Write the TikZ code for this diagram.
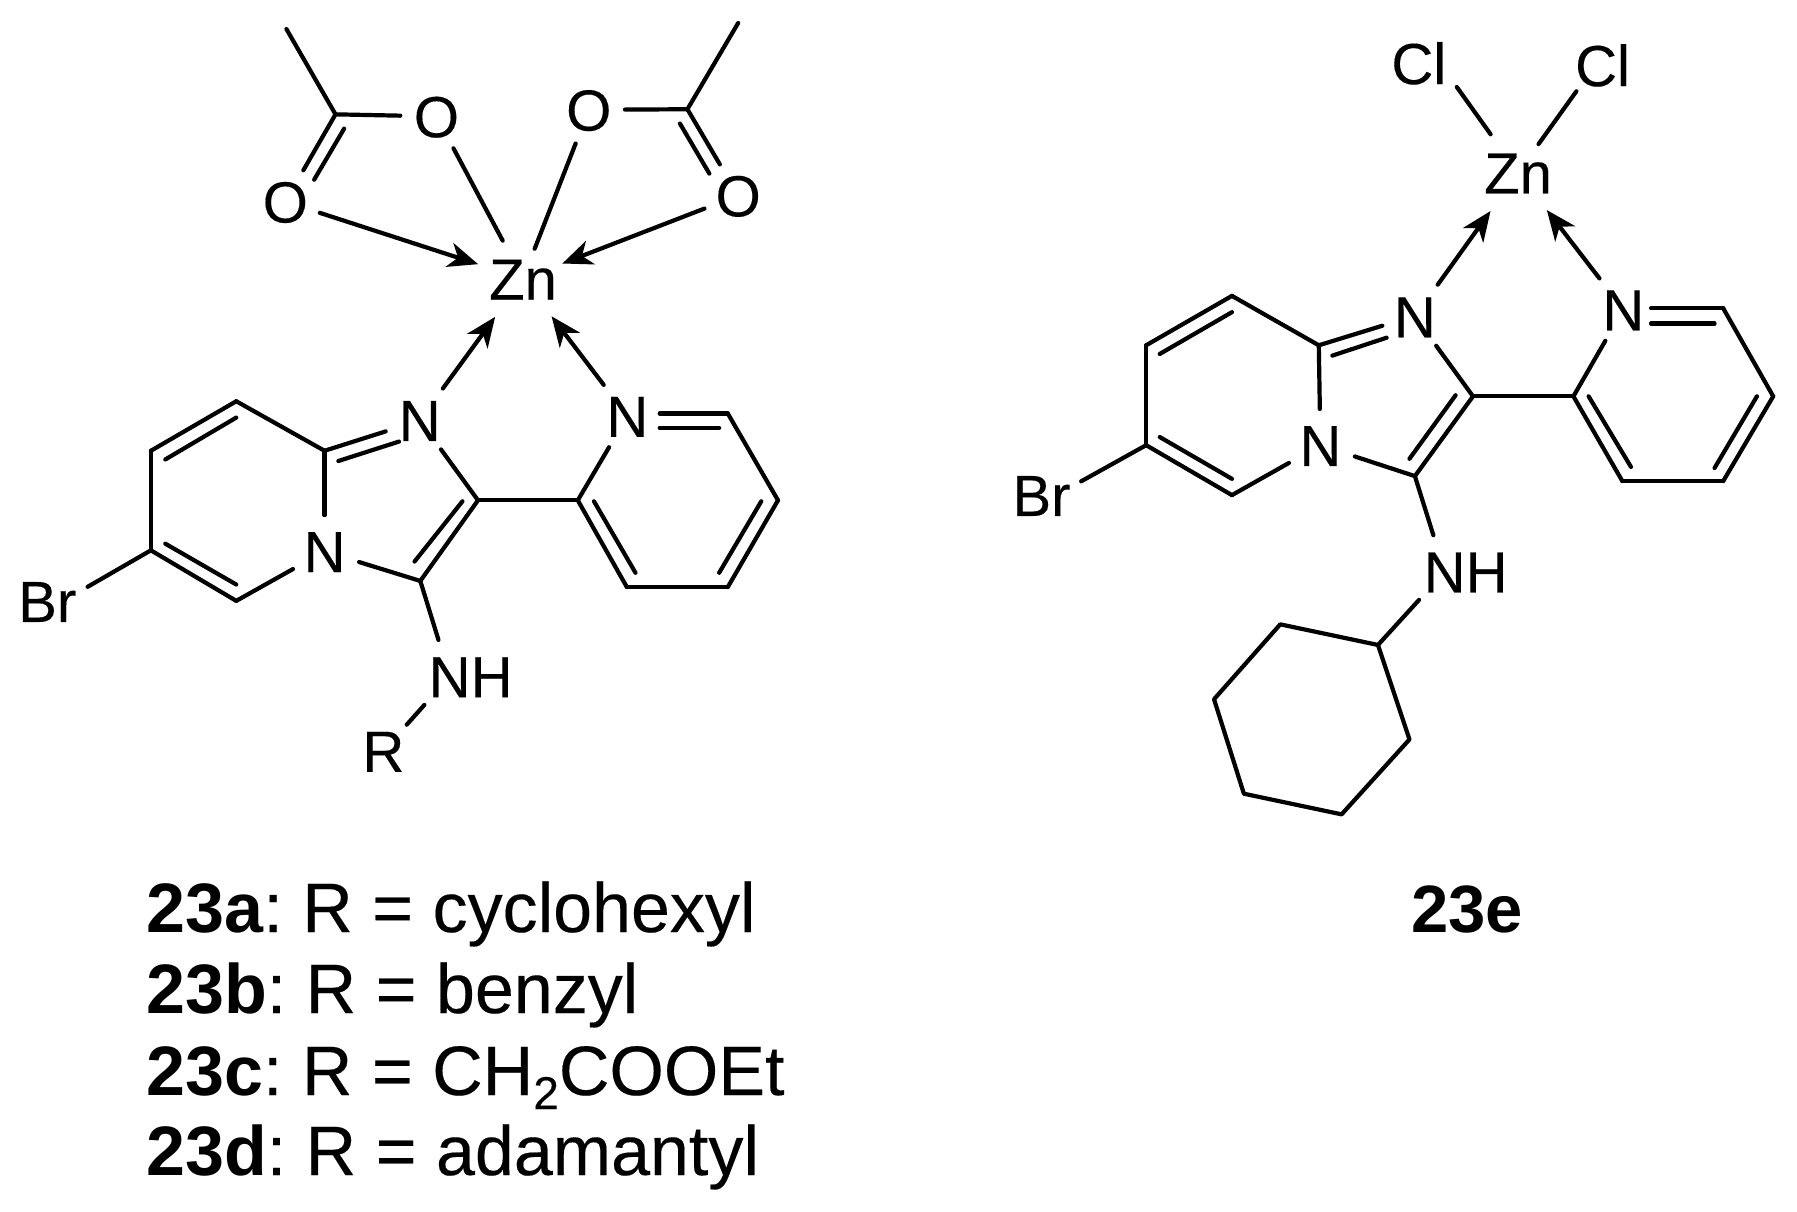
\documentclass[tikz,border=0pt]{standalone}
\usepackage{fontspec}
\setmainfont{Liberation Sans}[UprightFeatures={FakeBold=0.25}]
\usetikzlibrary{arrows.meta}
\newcommand{\ctext}[1]{\makebox[0pt]{\raisebox{-20.8pt}[0pt][0pt]{#1}}}
\newcommand{\otext}[3]{\makebox[0pt][l]{\hspace*{#1}\raisebox{#2}[0pt][0pt]{#3}}}
\tikzset{
  atomlab/.style={circle,inner sep=0pt,minimum size=#1,font=\fontsize{58}{60}\selectfont},
  atomlab/.default=72pt,
  bond/.style={line width=4.2pt,line cap=round,line join=round},
  dative/.style={bond,-{Stealth[length=30pt,width=25pt,inset=9pt]}},
  caption/.style={anchor=base west,inner sep=0pt,font=\fontsize{70}{72}\selectfont}
}
\begin{document}
\begin{tikzpicture}
\path[use as bounding box,fill=white] (0pt,0pt) rectangle (1797pt,-1211pt);
% ---------- left complex
\begin{scope}[shift={(-2pt,0pt)},x=0.57692pt,y=-0.5105pt]
\node[atomlab=94pt] (lZn) at (910,546) {\ctext{Zn}};
\node[atomlab] (lO1) at (760,228) {\ctext{O}};
\node[atomlab] (lO2) at (498,395) {\ctext{O}};
\node[atomlab] (lO3) at (1024,215) {\ctext{O}};
\node[atomlab] (lO4) at (1283,383) {\ctext{O}};
\node[atomlab] (lN1) at (731,823) {\ctext{N}};
\node[atomlab] (lN2) at (1091,815) {\ctext{N}};
\node[atomlab] (lN3) at (566,1080) {\ctext{N}};
\node[atomlab=76pt] (lNH) at (783,1325) {\otext{-21pt}{-20.8pt}{NH}};
\node[atomlab=70pt] (lR) at (668,1471) {\ctext{R}};
\node[atomlab] (lBr) at (101,1185) {\otext{-38pt}{-17pt}{Br}};
\coordinate (lMe1) at (500,57);
\coordinate (lC1) at (585,224);
\coordinate (lMe2) at (1283,45);
\coordinate (lC2) at (1195,214);
\coordinate (lC2i) at (832,980);
\coordinate (lC3i) at (732,1138);
\coordinate (lC8a) at (566,883);
\coordinate (lC8) at (413,786);
\coordinate (lC7) at (265,883);
\coordinate (lC6) at (265,1078);
\coordinate (lC5) at (413,1177);
\coordinate (lP2) at (1005,980);
\coordinate (lP3) at (1090,1150);
\coordinate (lP4) at (1265,1150);
\coordinate (lP5) at (1352,980);
\coordinate (lP6) at (1265,810);
\coordinate (lD1) at (672,845);
\coordinate (lD2) at (1147,810);
% inner lines of double bonds
\coordinate (la1) at (600,252); \coordinate (la2) at (548,352);
\coordinate (lb1) at (1182,242); \coordinate (lb2) at (1233,340);
\coordinate (lc1) at (590,903); \coordinate (lc2) at (695,865);
\coordinate (ld1) at (805,982); \coordinate (ld2) at (722,1100);
\coordinate (le1) at (290,900); \coordinate (le2) at (413,818);
\coordinate (lf1) at (290,1065); \coordinate (lf2) at (413,1145);
\coordinate (lg1) at (1147,838); \coordinate (lg2) at (1250,838);
\coordinate (lh1) at (1323,982); \coordinate (lh2) at (1250,1122);
\coordinate (li1) at (1105,1122); \coordinate (li2) at (1033,982);
\draw[bond] (lMe1) -- (lC1);
\draw[bond] (lC1) -- (lO1);
\draw[bond] (lC1) -- (lO2);
\draw[bond] (la1) -- (la2);
\draw[bond] (lMe2) -- (lC2);
\draw[bond] (lC2) -- (lO3);
\draw[bond] (lC2) -- (lO4);
\draw[bond] (lb1) -- (lb2);
\draw[bond,shorten >=-4pt] (lO1) -- (lZn);
\draw[bond,shorten >=-15pt] (lO3) -- (lZn);
\draw[dative] (lO2) -- (lZn);
\draw[dative,shorten >=-5pt] (lO4) -- (lZn);
\draw[dative,shorten <=3pt] (lN1) -- (lZn);
\draw[dative,shorten <=3pt] (lN2) -- (lZn);
\draw[bond] (lC8a) -- (lD1);
\draw[bond] (lc1) -- (lc2);
\draw[bond] (lC8a) -- (lN3);
\draw[bond] (lC8a) -- (lC8);
\draw[bond] (lC8) -- (lC7);
\draw[bond] (le1) -- (le2);
\draw[bond] (lC7) -- (lC6);
\draw[bond] (lC6) -- (lC5);
\draw[bond] (lf1) -- (lf2);
\draw[bond] (lC5) -- (lN3);
\draw[bond] (lN3) -- (lC3i);
\draw[bond] (lC3i) -- (lC2i);
\draw[bond] (ld1) -- (ld2);
\draw[bond] (lC2i) -- (lN1);
\draw[bond] (lC2i) -- (lP2);
\draw[bond] (lP2) -- (lN2);
\draw[bond] (lP2) -- (lP3);
\draw[bond] (li1) -- (li2);
\draw[bond] (lP3) -- (lP4);
\draw[bond] (lP4) -- (lP5);
\draw[bond] (lh1) -- (lh2);
\draw[bond] (lP5) -- (lP6);
\draw[bond] (lP6) -- (lD2);
\draw[bond] (lg1) -- (lg2);
\draw[bond] (lC6) -- (lBr);
\draw[bond] (lC3i) -- (lNH);
\draw[bond] (lNH) -- (lR);
\end{scope}
% ---------- right complex
\begin{scope}[shift={(948pt,0pt)},x=0.54289pt,y=-0.54289pt]
\node[atomlab=94pt] (rZn) at (1050,318) {\ctext{Zn}};
\node[atomlab=56pt] (rCl1) at (907,118) {\otext{-49pt}{-20pt}{Cl}};
\node[atomlab=64pt] (rCl2) at (1192,120) {\otext{-20pt}{-21pt}{Cl}};
\node[atomlab] (rN1) at (860,583) {\ctext{N}};
\node[atomlab] (rN2) at (1244,570) {\ctext{N}};
\node[atomlab] (rN3) at (686,820) {\ctext{N}};
\node[atomlab=76pt] (rNH) at (915,1053) {\otext{-21pt}{-20.8pt}{NH}};
\node[atomlab] (rBr) at (187,919) {\otext{-37pt}{-17pt}{Br}};
\coordinate (rC2i) at (967,730);
\coordinate (rC3i) at (860,877);
\coordinate (rC8a) at (683,636);
\coordinate (rC8) at (523,545);
\coordinate (rC7) at (365,636);
\coordinate (rC6) at (365,820);
\coordinate (rC5) at (523,912);
\coordinate (rP2) at (1152,730);
\coordinate (rP3) at (1242,886);
\coordinate (rP4) at (1428,886);
\coordinate (rP5) at (1520,730);
\coordinate (rP6) at (1428,568);
\coordinate (rD1) at (800,600);
\coordinate (rD2) at (1295,568);
\coordinate (rX1) at (792,1188);
\coordinate (rX2) at (612,1150);
\coordinate (rX3) at (490,1288);
\coordinate (rX4) at (545,1462);
\coordinate (rX5) at (725,1500);
\coordinate (rX6) at (850,1362);
\coordinate (rc1) at (708,655); \coordinate (rc2) at (808,622);
\coordinate (rd1) at (935,728); \coordinate (rd2) at (850,845);
\coordinate (re1) at (390,652); \coordinate (re2) at (523,575);
\coordinate (rf1) at (390,805); \coordinate (rf2) at (523,882);
\coordinate (rg1) at (1295,596); \coordinate (rg2) at (1412,596);
\coordinate (rh1) at (1490,730); \coordinate (rh2) at (1412,862);
\coordinate (ri1) at (1258,860); \coordinate (ri2) at (1180,730);
\draw[bond] (rCl1) -- (rZn);
\draw[bond,shorten >=-12pt] (rCl2) -- (rZn);
\draw[dative,shorten <=3pt] (rN1) -- (rZn);
\draw[dative,shorten <=3pt] (rN2) -- (rZn);
\draw[bond] (rC8a) -- (rD1);
\draw[bond] (rc1) -- (rc2);
\draw[bond] (rC8a) -- (rN3);
\draw[bond] (rC8a) -- (rC8);
\draw[bond] (rC8) -- (rC7);
\draw[bond] (re1) -- (re2);
\draw[bond] (rC7) -- (rC6);
\draw[bond] (rC6) -- (rC5);
\draw[bond] (rf1) -- (rf2);
\draw[bond] (rC5) -- (rN3);
\draw[bond] (rN3) -- (rC3i);
\draw[bond] (rC3i) -- (rC2i);
\draw[bond] (rd1) -- (rd2);
\draw[bond] (rC2i) -- (rN1);
\draw[bond] (rC2i) -- (rP2);
\draw[bond] (rP2) -- (rN2);
\draw[bond] (rP2) -- (rP3);
\draw[bond] (ri1) -- (ri2);
\draw[bond] (rP3) -- (rP4);
\draw[bond] (rP4) -- (rP5);
\draw[bond] (rh1) -- (rh2);
\draw[bond] (rP5) -- (rP6);
\draw[bond] (rP6) -- (rD2);
\draw[bond] (rg1) -- (rg2);
\draw[bond] (rC6) -- (rBr);
\draw[bond] (rC3i) -- (rNH);
\draw[bond] (rNH) -- (rX1);
\draw[bond] (rX1) -- (rX2) -- (rX3) -- (rX4) -- (rX5) -- (rX6) -- cycle;
\end{scope}
% ---------- captions
\node[caption] (capa) at (146pt,-932pt) {\textbf{23a}:\ R = cyclohexyl};
\node[caption] (capb) at (146pt,-1013pt) {\textbf{23b}:\ R = benzyl};
\node[caption] (capc) at (146pt,-1095pt) {\textbf{23c}:\ R = CH\raisebox{-14pt}{\fontsize{46}{48}\selectfont 2}COOEt};
\node[caption] (capd) at (146pt,-1175pt) {\textbf{23d}:\ R = adamantyl};
\node[caption,font=\fontsize{67}{70}\selectfont] (cape) at (1411pt,-932pt) {\textbf{23e}};
\end{tikzpicture}
\end{document}
